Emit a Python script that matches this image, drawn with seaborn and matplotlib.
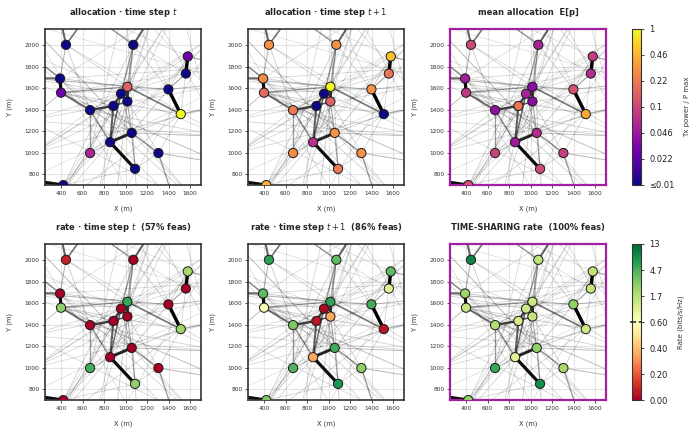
import numpy as np
import pandas as pd
import matplotlib
matplotlib.use("Agg")
import matplotlib.pyplot as plt
import seaborn as sns
from matplotlib.collections import LineCollection
from matplotlib.colors import Normalize
from matplotlib.cm import ScalarMappable

# ---------------- data ----------------
node_names = list("ABCDEFGHIJKLMNOPQRS")
node_x = [445, 1071, 1577, 1559, 390, 399, 1016, 957, 1397, 1016, 886, 669, 1512, 1056, 855, 669, 1304, 1087, 420]
node_y = [2003, 2003, 1895, 1736, 1690, 1558, 1613, 1549, 1589, 1476, 1435, 1396, 1359, 1184, 1098, 997, 997, 850, 699]

far_names = ["U1", "U2", "U3", "W1", "W2", "W3", "W4", "W5", "W6", "W7", "W8", "W9", "W10",
             "W11", "W12", "W13", "W14", "W15", "W16", "W17", "W18", "W19", "W20"]
far_x = [350, 660, 1260, 80, 50, 100, 1950, 1900, 1450, 1900, 1110, 100, 150,
         300, 700, 1700, 1900, 1850, 1500, 1000, 100, 2000, 900]
far_y = [2450, 2300, 2300, 750, 1700, 1920, 1800, 1440, 550, 900, 500, 1300, 1000,
         450, 450, 500, 1150, 2100, 2400, 2450, 2200, 1650, 500]

# Tx power / P_max per node
power_t = [0.01, 0.01, 0.027, 0.01, 0.01, 0.027, 0.15, 0.01, 0.01, 0.01, 0.01, 0.01, 1.0,
           0.01, 0.01, 0.06, 0.01, 0.01, 0.01]
power_t1 = [0.3, 0.3, 0.55, 0.2, 0.28, 0.17, 1.0, 0.01, 0.3, 0.15, 0.01, 0.22, 0.01,
            0.3, 0.07, 0.28, 0.3, 0.22, 0.45]
power_mean = [0.1, 0.055, 0.085, 0.065, 0.05, 0.08, 0.038, 0.055, 0.12, 0.038, 0.2, 0.042, 0.4,
              0.065, 0.048, 0.09, 0.09, 0.11, 0.12]

# rates (bits/s/Hz)
rate_t = [0.08, 0.0, 2.0, 0.0, 0.0, 2.5, 5.5, 0.0, 0.0, 0.0, 0.0, 0.0, 2.2,
          0.0, 0.0, 5.0, 0.0, 2.5, 0.0]
rate_t1 = [6.0, 4.0, 4.0, 1.0, 4.0, 0.7, 6.0, 0.02, 5.0, 0.35, 0.05, 3.0, 0.05,
           5.0, 0.35, 4.5, 2.5, 7.0, 3.0]
rate_ts = [9.0, 1.5, 1.5, 1.4, 2.2, 1.4, 1.3, 1.3, 2.5, 1.4, 1.2, 1.8, 1.3,
           2.5, 1.0, 5.5, 2.0, 8.0, 2.5]

edge_from = ["C", "E", "I", "O", "S", "O", "G", "H", "L", "K", "H", "K", "H", "A", "A", "B", "B",
             "E", "E", "F", "G", "F", "L", "L", "N", "Q", "N", "B", "B", "B", "D", "C", "M", "A",
             "Q", "N", "N", "R", "I", "N", "F",
             "W18", "W3", "W2", "W9", "W10", "W11", "W12", "W20", "W6", "W8", "W13", "W5", "W1",
             "A", "B", "C", "D", "E", "F", "G", "H", "I", "J", "K", "L", "M", "N", "O", "P", "Q",
             "R", "S", "A", "A", "B", "C", "D", "E", "F", "G", "H", "I", "J", "K", "L", "M", "M",
             "N", "O", "P", "Q", "R", "W2", "W2", "W2", "E", "F", "F", "U2", "U1", "W17", "W17",
             "U3", "U3", "W15", "W15", "W16", "W4", "W4", "W19", "W14", "U3", "W17", "W16", "P",
             "L", "O"]
edge_to = ["D", "F", "M", "R", "W1", "N", "J", "K", "K", "O", "J", "J", "O", "U1", "U2", "U3", "U2",
           "W2", "W3", "L", "M", "G", "O", "P", "Q", "W6", "R", "H", "G", "J", "I", "W4", "W5", "E",
           "W7", "J", "H", "W8", "W19", "W14", "W9",
           "W13", "W14", "W7", "W19", "W15", "W16", "U3", "W15", "W3", "W18", "W9", "W10", "W19",
           "W14", "W11", "W10", "W9", "W13", "W7", "W11", "W12", "W10", "W20", "W13", "W14", "W11",
           "W18", "W16", "W15", "W3", "W17", "W16", "G", "L", "I", "I", "M", "L", "K", "I", "L", "N",
           "Q", "N", "N", "N", "Q", "P", "P", "S", "R", "S", "G", "I", "H", "G", "I", "M", "C", "D",
           "P", "M", "O", "P", "L", "S", "E", "E", "F", "W18", "W9", "W14", "W5", "W7", "W11",
           "W10", "W11"]
edge_weight = [1.0, 0.95, 1.0, 0.95, 0.95, 0.85, 0.8, 0.7, 0.7, 0.6, 0.55, 0.5, 0.45, 0.6, 0.5,
               0.6, 0.35, 0.55, 0.4, 0.55, 0.5, 0.35, 0.4, 0.35, 0.35, 0.35, 0.3, 0.35, 0.3, 0.25,
               0.3, 0.3, 0.3, 0.25, 0.22, 0.28, 0.22, 0.15, 0.2, 0.2, 0.2,
               0.1, 0.08, 0.08, 0.1, 0.08, 0.1, 0.12, 0.08, 0.1, 0.08, 0.1, 0.1, 0.06,
               0.1, 0.12, 0.1, 0.1, 0.12, 0.1, 0.1, 0.12, 0.1, 0.15, 0.1, 0.12, 0.1, 0.1, 0.1,
               0.1, 0.08, 0.12, 0.08, 0.12, 0.15, 0.12, 0.15, 0.12, 0.12, 0.18, 0.15, 0.15, 0.15,
               0.12, 0.15, 0.12, 0.15, 0.12, 0.12, 0.12, 0.12, 0.12, 0.1, 0.15, 0.12, 0.12, 0.15,
               0.12, 0.15, 0.08, 0.08, 0.1, 0.08, 0.1, 0.08, 0.08, 0.08, 0.08, 0.1, 0.08, 0.06,
               0.1, 0.1, 0.08, 0.1, 0.1, 0.1, 0.1]

power_ticklabels = ["\u22640.01", "0.022", "0.046", "0.1", "0.22", "0.46", "1"]
rate_ticklabels = ["0.00", "0.20", "0.40", "0.60", "1.7", "4.7", "13"]
RATE_THR, RATE_MAX = 0.6, 13.0

titles = ["allocation \u00b7 time step $t$", "allocation \u00b7 time step $t+1$", "mean allocation  E[p]",
          "rate \u00b7 time step $t$  (57% feas)", "rate \u00b7 time step $t+1$  (86% feas)",
          "TIME-SHARING rate  (100% feas)"]

# ---------------- style ----------------
sns.set_style("whitegrid", {"grid.color": "#e4e4e4", "axes.edgecolor": "#333333"})
plt.rcParams["font.family"] = ["DejaVu Sans"]

fig = plt.figure(figsize=(6.9, 4.29), dpi=100)

coords = {n: (x, y) for n, x, y in zip(node_names + far_names, node_x + far_x, node_y + far_y)}
order = np.argsort(edge_weight)
segs = [[coords[edge_from[i]], coords[edge_to[i]]] for i in order]
ws = np.array([edge_weight[i] for i in order])
edge_alpha = np.clip(0.1 + 0.9 * ws ** 1.1, 0, 1)
edge_lw = 0.45 + 2.0 * ws ** 1.3

plasma = plt.get_cmap("plasma")
rdylgn = plt.get_cmap("RdYlGn")


def pnorm(p):
    return float(np.clip((np.log10(max(p, 1e-6)) + 2.0) / 2.0, 0, 1))


def rnorm(r):
    if r <= RATE_THR:
        return 0.5 * r / RATE_THR
    return float(np.clip(0.5 + 0.5 * np.log(r / RATE_THR) / np.log(RATE_MAX / RATE_THR), 0, 1))


panels = [
    ([plasma(pnorm(v)) for v in power_t], False),
    ([plasma(pnorm(v)) for v in power_t1], False),
    ([plasma(pnorm(v)) for v in power_mean], True),
    ([rdylgn(rnorm(v)) for v in rate_t], False),
    ([rdylgn(rnorm(v)) for v in rate_t1], False),
    ([rdylgn(rnorm(v)) for v in rate_ts], True),
]

W, H = 690.0, 429.0
lefts = [45, 248, 450]
tops = [29, 244]
size = 156

for k, (cols, purple) in enumerate(panels):
    r, c = divmod(k, 3)
    ax = fig.add_axes([lefts[c] / W, 1 - (tops[r] + size) / H, size / W, size / H])
    lc = LineCollection(segs, colors=[(0, 0, 0, a) for a in edge_alpha],
                        linewidths=edge_lw, zorder=2, capstyle="round")
    ax.add_collection(lc)
    df = pd.DataFrame({"x": node_x, "y": node_y, "node": node_names})
    sns.scatterplot(data=df, x="x", y="y", hue="node", palette=dict(zip(node_names, cols)),
                    s=44, edgecolor="#1a1a1a", linewidth=0.7, legend=False, ax=ax, zorder=3)
    ax.set_xlim(250, 1700)
    ax.set_ylim(700, 2150)
    ax.set_xticks(range(400, 1601, 200))
    ax.set_yticks(range(800, 2001, 200))
    ax.tick_params(axis="both", labelsize=4.2, length=2, width=0.6, pad=2,
                   colors="#333333", bottom=True, left=True)
    ax.grid(True, color="#e4e4e4", lw=0.8)
    ax.set_xlabel("X (m)", fontsize=4.8, labelpad=7, color="#333333")
    ax.set_ylabel("Y (m)", fontsize=4.8, labelpad=8, color="#333333")
    ax.set_title(titles[k], fontsize=6, fontweight="bold", pad=10)
    for sp in ax.spines.values():
        if purple:
            sp.set_edgecolor("#a020a0")
            sp.set_linewidth(1.6)
        else:
            sp.set_edgecolor("#333333")
            sp.set_linewidth(1.2)

# colorbars
for r, (cmap, labels, lab) in enumerate([(plasma, power_ticklabels, "Tx power / P max"),
                                          (rdylgn, rate_ticklabels, "Rate (bits/s/Hz)")]):
    cax = fig.add_axes([632 / W, 1 - (tops[r] + size) / H, 9 / W, size / H])
    sm = ScalarMappable(norm=Normalize(0, 1), cmap=cmap)
    cb = fig.colorbar(sm, cax=cax, ticks=np.linspace(0, 1, 7))
    cb.ax.set_yticklabels(labels)
    cb.ax.tick_params(labelsize=6, length=2.5, width=0.6, colors="#222222")
    cb.set_label(lab, fontsize=5, labelpad=7, color="#333333")
    cb.outline.set_edgecolor("#333333")
    cb.outline.set_linewidth(0.8)
    if r == 1:
        cb.ax.axhline(0.5, xmin=-0.25, xmax=1.0, color="#333333", lw=1.2, ls="--", clip_on=False)

fig.savefig("out.png", dpi=100)
